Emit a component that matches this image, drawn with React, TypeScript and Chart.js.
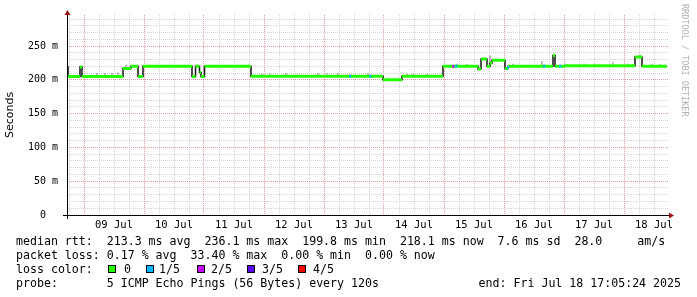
import { useEffect, useRef } from "react";
import { Chart, registerables } from "chart.js";

Chart.register(...registerables);

// x values are hours since 09 Jul 00:00
const xMin = -6.8;
const xMax = 234.0;
const dayLabels = ["09 Jul", "10 Jul", "11 Jul", "12 Jul", "13 Jul", "14 Jul", "15 Jul", "16 Jul", "17 Jul", "18 Jul"];
const dayNoonHours = [12, 36, 60, 84, 108, 132, 156, 180, 204, 228];

// median rtt (ms), stepped segments
const segStart = [-6.8, -6.4, -1.6, -0.8, 15.6, 18.8, 21.6, 23.6, 43.2, 44.6, 46.2, 46.8, 48.2, 66.8, 119.6, 127.2, 143.6, 157.6, 158.8, 161.2, 162.4, 163.2, 168.4, 169.6, 187.6, 188.4, 192.4, 220.4, 223.2];
const segEnd = [-6.4, -1.6, -0.8, 15.6, 18.8, 21.6, 23.6, 43.2, 44.6, 46.2, 46.8, 48.2, 66.8, 119.6, 127.2, 143.6, 157.6, 158.8, 161.2, 162.4, 163.2, 168.4, 169.6, 187.6, 188.4, 192.4, 220.4, 223.2, 233.1];
const segMedian = [219, 205, 219, 205, 217, 220, 205, 220, 205, 220, 211, 205, 220, 205.5, 200, 205.5, 220, 216, 231, 220, 225, 229, 217, 220, 236, 220, 221, 234, 220];

// smoke spikes (ms)
const spikeHours = [5.2, 8.4, 11.2, 13.6, 16.8, 20.4, 28, 35.6, 55.2, 62.4, 71.2, 74.4, 80.8, 85.2, 93.6, 97.2, 101.6, 106.4, 113.6, 121.6, 129.2, 131.6, 137.2, 149.2, 153.2, 162.4, 164.8, 171.6, 183.2, 192.4, 195.6, 200.4, 204.4, 211.6, 215.2, 217.6, 222.4, 227.2, 230.4];
const spikeLow = [205, 205, 205, 205, 217, 220, 220, 220, 220, 220, 205.5, 205.5, 205.5, 205.5, 205.5, 205.5, 205.5, 205.5, 205.5, 200, 205.5, 205.5, 205.5, 220, 220, 225, 229, 220, 220, 221, 221, 221, 221, 221, 221, 221, 234, 220, 220];
const spikeHigh = [210, 210, 210, 211, 222, 222, 222, 222, 222, 222, 209, 209, 210, 208, 210, 209, 210, 208, 210, 203, 209, 209, 209, 224, 223, 236, 232, 224, 228, 224, 224, 224, 224, 226, 224, 224, 237, 224, 223];

// packet loss marks
const lossHours = [106.4, 114.4, 147.6, 148.8, 169.6, 184, 190.4];
const lossValues = [205.5, 205.5, 220, 220, 218, 220, 220];
const lossLevel = [1, 1, 2, 1, 1, 1, 1];

const lossColors = ["#26ff00", "#00b8ff", "#c800ff", "#5a00ff", "#ff0000"];
const lossNames = ["0", "1/5", "2/5", "3/5", "4/5"];

const yLabelValues = [0, 50, 100, 150, 200, 250];
const yLabelTexts = ["0  ", "50 m", "100 m", "150 m", "200 m", "250 m"];

const MAJOR = "rgba(222,140,140,0.85)";
const MINOR = "rgba(200,200,200,0.8)";

const axisPlugin = {
  id: "rrdAxes",
  afterDraw(chart: any) {
    const { ctx, chartArea } = chart;
    const y0 = chart.scales.y.getPixelForValue(0);
    const left = chartArea.left;
    ctx.save();
    ctx.strokeStyle = "#000";
    ctx.lineWidth = 1;
    ctx.beginPath();
    ctx.moveTo(left - 4, Math.round(y0) + 0.5);
    ctx.lineTo(chartArea.right + 1, Math.round(y0) + 0.5);
    ctx.moveTo(left + 0.5, Math.round(y0) + 4);
    ctx.lineTo(left + 0.5, chartArea.top - 1);
    ctx.stroke();
    ctx.fillStyle = "#a01010";
    const ry = Math.round(y0) + 0.5;
    ctx.beginPath();
    ctx.moveTo(chartArea.right + 5, ry);
    ctx.lineTo(chartArea.right, ry - 3);
    ctx.lineTo(chartArea.right, ry + 3);
    ctx.closePath();
    ctx.fill();
    const ax = left + 0.5;
    ctx.beginPath();
    ctx.moveTo(ax, chartArea.top - 5);
    ctx.lineTo(ax - 3, chartArea.top);
    ctx.lineTo(ax + 3, chartArea.top);
    ctx.closePath();
    ctx.fill();
    ctx.translate(684, 4);
    ctx.rotate(Math.PI / 2);
    ctx.fillStyle = "#b0b0b0";
    ctx.font = "8.5px 'DejaVu Sans Mono'";
    ctx.textBaseline = "middle";
    ctx.textAlign = "left";
    ctx.fillText("RRDTOOL / TOBI OETIKER", 0, 0);
    ctx.restore();
  },
};

export default function App() {
  const ref = useRef<HTMLCanvasElement | null>(null);

  useEffect(() => {
    if (!ref.current) return;

    const green: any[] = [];
    segStart.forEach((s, i) => {
      green.push({ x: s, y: segMedian[i] });
      green.push({ x: segEnd[i], y: segMedian[i] });
      green.push({ x: segEnd[i], y: null });
    });
    const black: any[] = segStart.map((s, i) => ({ x: s, y: segMedian[i] }));
    black.push({ x: segEnd[segEnd.length - 1], y: segMedian[segMedian.length - 1] });

    const spikes: any[] = [];
    spikeHours.forEach((h, i) => {
      spikes.push({ x: h, y: spikeLow[i] });
      spikes.push({ x: h, y: spikeHigh[i] });
      spikes.push({ x: h, y: null });
    });

    const lossSets = [1, 2, 3, 4].map((lvl) => {
      const d: any[] = [];
      lossHours.forEach((h, i) => {
        if (lossLevel[i] !== lvl) return;
        d.push({ x: h - 0.3, y: lossValues[i] });
        d.push({ x: h + 0.5, y: lossValues[i] });
        d.push({ x: h + 0.5, y: null });
      });
      return {
        label: "loss " + lossNames[lvl],
        data: d,
        borderColor: lossColors[lvl],
        borderWidth: 3,
        pointRadius: 0,
        order: 0,
        borderCapStyle: "butt",
      };
    });

    const chart = new Chart(ref.current, {
      type: "line",
      data: {
        datasets: [
          ...lossSets,
          {
            label: "median",
            data: green,
            borderColor: lossColors[0],
            borderWidth: 3,
            pointRadius: 0,
            order: 1,
            borderCapStyle: "butt",
          },
          {
            label: "transitions",
            data: black,
            borderColor: "#151515",
            borderWidth: 1.5,
            pointRadius: 0,
            stepped: "before",
            order: 2,
          },
          {
            label: "smoke",
            data: spikes,
            borderColor: "#8c8c8c",
            borderWidth: 1.2,
            pointRadius: 0,
            order: 3,
          },
        ] as any,
      },
      options: {
        animation: false,
        responsive: false,
        devicePixelRatio: 1,
        layout: { padding: { left: 0, top: 12, right: 28, bottom: 62 } },
        plugins: { legend: { display: false }, tooltip: { enabled: false } },
        scales: {
          x: {
            type: "linear",
            min: xMin,
            max: xMax,
            ticks: { display: false, autoSkip: false },
            grid: {
              drawTicks: false,
              color: (c: any) => (c.tick && c.tick.value % 24 === 0 ? MAJOR : MINOR),
            },
            border: { display: false, dash: [1, 1] },
            afterBuildTicks: (s: any) => {
              const t: any[] = [];
              for (let v = -6; v <= 228; v += 6) t.push({ value: v });
              s.ticks = t;
            },
            afterFit: (s: any) => {
              s.height = 0;
            },
          },
          x2: {
            type: "linear",
            position: "bottom",
            min: xMin,
            max: xMax,
            grid: { display: false, drawTicks: false },
            border: { display: false },
            ticks: {
              autoSkip: false,
              maxRotation: 0,
              padding: 4,
              color: "#000",
              font: { family: "'DejaVu Sans Mono'", size: 10.5 },
              callback: (v: any) => {
                const i = dayNoonHours.indexOf(Number(v));
                return i >= 0 ? dayLabels[i] : "";
              },
            },
            afterBuildTicks: (s: any) => {
              s.ticks = dayNoonHours.map((v) => ({ value: v }));
            },
            afterFit: (s: any) => {
              s.height = 20;
            },
          },
          y: {
            type: "linear",
            min: 0,
            max: 296,
            grid: {
              drawTicks: false,
              color: (c: any) => (c.tick && c.tick.value % 50 === 0 ? MAJOR : MINOR),
            },
            border: { display: false, dash: [1, 1] },
            ticks: {
              autoSkip: false,
              padding: 9,
              color: "#000",
              font: { family: "'DejaVu Sans Mono'", size: 10 },
              callback: (v: any) => {
                const i = yLabelValues.indexOf(Number(v));
                return i >= 0 ? yLabelTexts[i] : "";
              },
            },
            title: {
              display: true,
              text: "Seconds",
              color: "#000",
              font: { family: "'DejaVu Sans'", size: 11 },
              padding: { top: 4, bottom: 4 },
            },
            afterBuildTicks: (s: any) => {
              const t: any[] = [];
              for (let v = 0; v <= 290; v += 10) t.push({ value: v });
              s.ticks = t;
            },
            afterFit: (s: any) => {
              s.width = 67;
            },
          },
        },
      } as any,
      plugins: [axisPlugin],
    });
    return () => chart.destroy();
  }, []);

  const mono: any = {
    position: "absolute",
    fontFamily: "'DejaVu Sans Mono', monospace",
    fontSize: "11.6px",
    lineHeight: "14px",
    whiteSpace: "pre",
    color: "#000",
    margin: 0,
  };
  const boxX = [108, 146, 197, 247, 298];
  const nameX = [124, 159, 211, 262, 313];

  return (
    <div style={{ position: "absolute", left: 0, top: 0, width: 697, height: 297, background: "#fff", overflow: "hidden" }}>
      <canvas ref={ref} width={697} height={297} style={{ position: "absolute", left: 0, top: 0, width: 697, height: 297 }} />
      <div style={{ ...mono, left: 16, top: 234 }}>
        {"median rtt:  213.3 ms avg  236.1 ms max  199.8 ms min  218.1 ms now  7.6 ms sd  28.0     am/s"}
      </div>
      <div style={{ ...mono, left: 16, top: 248 }}>
        {"packet loss: 0.17 % avg  33.40 % max  0.00 % min  0.00 % now"}
      </div>
      <div style={{ ...mono, left: 16, top: 262 }}>{"loss color:"}</div>
      {lossNames.map((n, i) => (
        <div key={n}>
          <div
            style={{
              position: "absolute",
              left: boxX[i],
              top: 265,
              width: 6,
              height: 6,
              border: "1px solid #000",
              background: lossColors[i],
            }}
          />
          <div style={{ ...mono, left: nameX[i], top: 262 }}>{n}</div>
        </div>
      ))}
      <div style={{ ...mono, left: 16, top: 276 }}>{"probe:       5 ICMP Echo Pings (56 Bytes) every 120s"}</div>
      <div style={{ ...mono, right: 697 - 681, top: 276 }}>{"end: Fri Jul 18 17:05:24 2025"}</div>
    </div>
  );
}
